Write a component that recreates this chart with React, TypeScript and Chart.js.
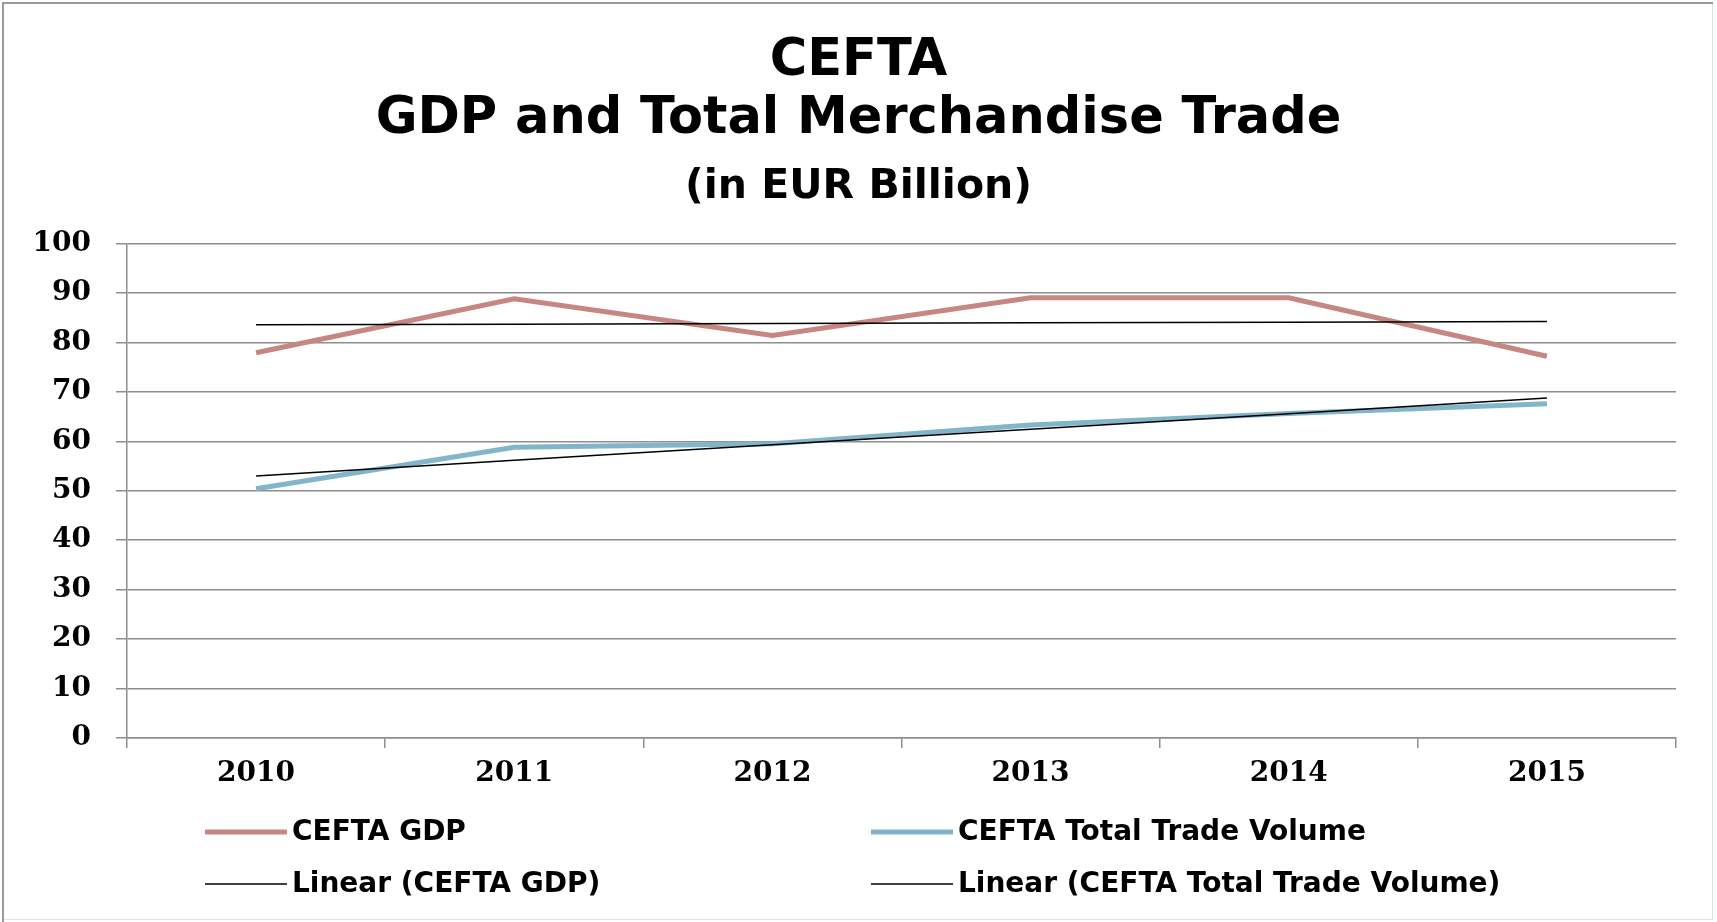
import React, { useEffect, useRef } from "react";
import { Chart, registerables } from "chart.js";

Chart.register(...registerables);

// ---- Data ----
const years = ["2010", "2011", "2012", "2013", "2014", "2015"];
const gdpValues = [77.9, 88.8, 81.4, 89.0, 89.0, 77.2];
const tradeValues = [50.4, 58.8, 59.5, 63.3, 65.6, 67.6];
const seriesLabels = ["CEFTA GDP", "CEFTA Total Trade Volume"];
const trendLabels = ["Linear (CEFTA GDP)", "Linear (CEFTA Total Trade Volume)"];
const titleLines = ["CEFTA", "GDP and Total Merchandise Trade"];
const subtitleText = "(in EUR Billion)";
const yMin = 0;
const yMax = 100;
const yStep = 10;

// Least-squares linear trend (as Excel's "Linear" trendline)
function linearTrend(values: number[]): number[] {
  const n = values.length;
  const mx = (n - 1) / 2;
  const my = values.reduce((a, b) => a + b, 0) / n;
  let num = 0;
  let den = 0;
  values.forEach((v, i) => {
    num += (i - mx) * (v - my);
    den += (i - mx) * (i - mx);
  });
  const slope = num / den;
  return values.map((_, i) => my + slope * (i - mx));
}

const GDP_COLOR = "#c68783";
const TRADE_COLOR = "#82b5c9";
const GRID_COLOR = "#8e8e8e";

const backgroundPlugin = {
  id: "bgBorder",
  beforeDraw(chart: any) {
    const { ctx, width, height } = chart;
    ctx.save();
    ctx.fillStyle = "#ffffff";
    ctx.fillRect(0, 0, width, height);
    ctx.strokeStyle = "#e2e2e2";
    ctx.lineWidth = 1;
    ctx.beginPath();
    ctx.moveTo(width - 4.5, 3);
    ctx.lineTo(width - 4.5, height - 2);
    ctx.moveTo(3, height - 2.5);
    ctx.lineTo(width - 4, height - 2.5);
    ctx.stroke();
    ctx.strokeStyle = "#9a9a9a";
    ctx.lineWidth = 2;
    ctx.beginPath();
    ctx.moveTo(3, height);
    ctx.lineTo(3, 3);
    ctx.lineTo(width - 4, 3);
    ctx.stroke();
    ctx.restore();
  },
};

const legendPlugin = {
  id: "gridLegend",
  afterDraw(chart: any) {
    const { ctx } = chart;
    const colX = [205, 871];
    const rowY = [832, 884];
    const lineLen = 82;
    ctx.save();
    ctx.font = "bold 28px 'DejaVu Sans'";
    ctx.textBaseline = "middle";
    ctx.textAlign = "left";
    chart.data.datasets.forEach((ds: any, i: number) => {
      const col = i % 2;
      const row = Math.floor(i / 2);
      const x = colX[col];
      const y = rowY[row];
      ctx.strokeStyle = ds.borderColor;
      ctx.lineWidth = ds.borderWidth;
      ctx.beginPath();
      ctx.moveTo(x, y);
      ctx.lineTo(x + lineLen, y);
      ctx.stroke();
      ctx.fillStyle = "#000";
      ctx.fillText(ds.label, x + lineLen + 5, y + 1);
    });
    ctx.restore();
  },
};

export default function App() {
  const canvasRef = useRef<HTMLCanvasElement | null>(null);

  useEffect(() => {
    document.body.style.margin = "0";
    const canvas = canvasRef.current;
    if (!canvas) return;
    const chart = new Chart(canvas, {
      type: "line",
      data: {
        labels: years,
        datasets: [
          {
            label: seriesLabels[0],
            data: gdpValues,
            borderColor: GDP_COLOR,
            backgroundColor: GDP_COLOR,
            borderWidth: 5,
            pointRadius: 0,
            tension: 0,
            order: 2,
          },
          {
            label: seriesLabels[1],
            data: tradeValues,
            borderColor: TRADE_COLOR,
            backgroundColor: TRADE_COLOR,
            borderWidth: 5,
            pointRadius: 0,
            tension: 0,
            order: 2,
          },
          {
            label: trendLabels[0],
            data: linearTrend(gdpValues),
            borderColor: "#000000",
            backgroundColor: "#000000",
            borderWidth: 1.5,
            pointRadius: 0,
            tension: 0,
            order: 1,
          },
          {
            label: trendLabels[1],
            data: linearTrend(tradeValues),
            borderColor: "#000000",
            backgroundColor: "#000000",
            borderWidth: 1.5,
            pointRadius: 0,
            tension: 0,
            order: 1,
          },
        ],
      },
      options: {
        responsive: false,
        animation: false,
        devicePixelRatio: 1,
        layout: { padding: { top: 0, left: 0, right: 0, bottom: 134 } },
        plugins: {
          legend: { display: false },
          tooltip: { enabled: false },
          title: {
            display: true,
            text: titleLines,
            color: "#000",
            font: { family: "'DejaVu Sans'", size: 51, weight: "bold", lineHeight: 1.15 },
            padding: { top: 32, bottom: 0 },
          },
          subtitle: {
            display: true,
            text: subtitleText,
            color: "#000",
            font: { family: "'DejaVu Sans'", size: 41, weight: "bold", lineHeight: 1.15 },
            padding: { top: 14, bottom: 33 },
          },
        },
        scales: {
          x: {
            type: "category",
            offset: true,
            grid: {
              display: true,
              drawOnChartArea: false,
              drawTicks: true,
              tickLength: 10,
              offset: true,
              color: GRID_COLOR,
              lineWidth: 1.5,
            },
            border: { display: true, color: GRID_COLOR, width: 1.5 },
            ticks: {
              color: "#000",
              padding: 9,
              maxRotation: 0,
              font: { family: "'DejaVu Serif'", size: 28, weight: "bold" },
            },
            afterFit: (s: any) => {
              s.height = 50;
            },
          },
          y: {
            type: "linear",
            position: "left",
            min: yMin,
            max: yMax,
            ticks: {
              stepSize: yStep,
              color: "#000",
              padding: 25,
              font: { family: "'DejaVu Serif'", size: 28, weight: "bold" },
            },
            grid: {
              color: GRID_COLOR,
              lineWidth: 1.5,
              tickLength: 11,
              drawTicks: true,
            },
            border: { display: true, color: GRID_COLOR, width: 1.5 },
            afterFit: (s: any) => {
              s.width = 127;
            },
          },
          yRight: {
            type: "linear",
            position: "right",
            display: true,
            grid: { display: false, drawTicks: false },
            border: { display: false },
            ticks: { display: false },
            afterFit: (s: any) => {
              s.width = 41;
            },
          },
        },
      },
      plugins: [backgroundPlugin, legendPlugin],
    } as any);
    return () => chart.destroy();
  }, []);

  return (
    <div style={{ position: "absolute", left: 0, top: 0, width: 1717, height: 922 }}>
      <canvas ref={canvasRef} width={1717} height={922} style={{ display: "block" }} />
    </div>
  );
}
